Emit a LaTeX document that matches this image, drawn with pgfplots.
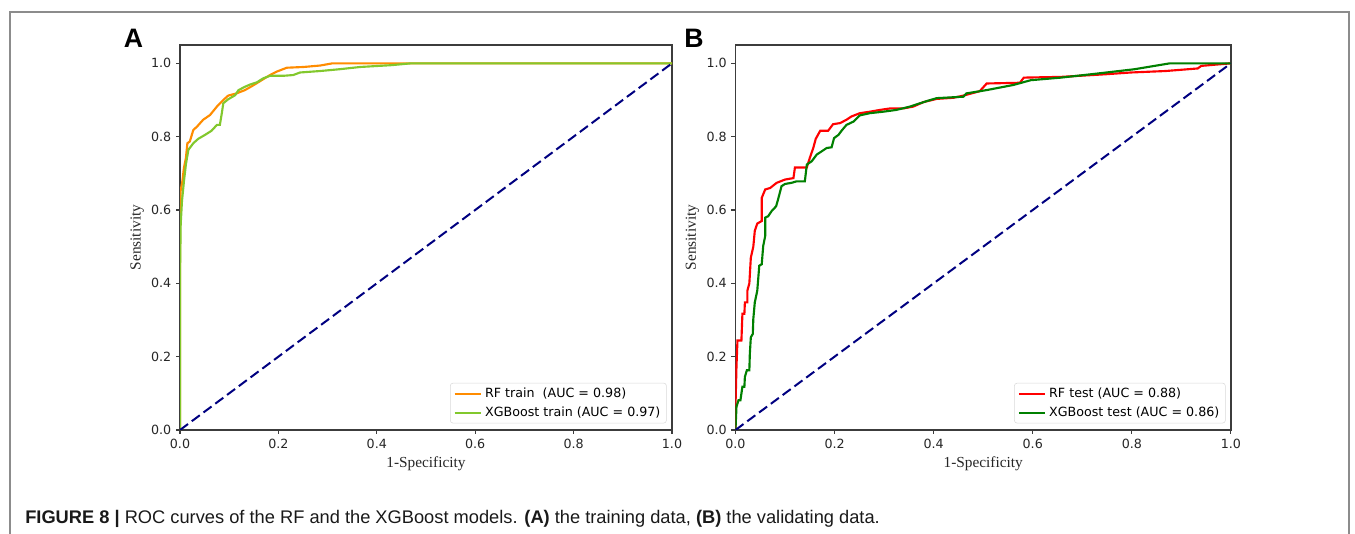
\documentclass[border=0pt]{standalone}
\usepackage{fontspec}
\setmainfont{Liberation Sans}
\newfontfamily\dejavu{DejaVu Sans}
\newfontfamily\timesf{Liberation Serif}
\usepackage{pgfplots}
\pgfplotsset{compat=1.18}

\definecolor{rforange}{RGB}{255,140,0}
\definecolor{xgyellowgreen}{RGB}{130,200,45}
\definecolor{rfred}{RGB}{255,0,0}
\definecolor{xggreen}{RGB}{0,128,0}
\definecolor{diagnavy}{RGB}{0,0,128}
\definecolor{spine}{RGB}{60,60,60}

% values
\pgfplotstableread{
x y
0 0
0 0.52
0.001 0.65
0.005 0.68
0.008 0.715
0.012 0.742
0.015 0.782
0.02 0.787
0.027 0.818
0.035 0.828
0.047 0.846
0.061 0.859
0.075 0.882
0.088 0.90
0.098 0.912
0.115 0.918
0.132 0.927
0.149 0.940
0.166 0.954
0.183 0.968
0.196 0.977
0.217 0.988
0.251 0.990
0.285 0.994
0.31 1.0
1 1
}\rftrain

\pgfplotstableread{
x y
0 0
0 0.42
0.0014 0.56
0.004 0.624
0.008 0.678
0.012 0.724
0.017 0.764
0.027 0.782
0.037 0.794
0.051 0.805
0.064 0.816
0.075 0.832
0.081 0.832
0.085 0.864
0.088 0.891
0.098 0.902
0.112 0.913
0.119 0.927
0.132 0.936
0.142 0.942
0.156 0.948
0.169 0.959
0.183 0.966
0.21 0.966
0.23 0.968
0.244 0.975
0.285 0.979
0.325 0.984
0.366 0.99
0.43 0.995
0.47 1.0
1 1
}\xgtrain

\pgfplotstableread{
x y
0 0
0 0.063
0.002 0.172
0.004 0.244
0.012 0.244
0.014 0.317
0.018 0.317
0.019 0.348
0.024 0.348
0.024 0.38
0.028 0.40
0.031 0.47
0.036 0.50
0.039 0.543
0.044 0.563
0.053 0.57
0.053 0.633
0.06 0.656
0.07 0.66
0.083 0.674
0.10 0.683
0.117 0.687
0.12 0.716
0.144 0.716
0.15 0.742
0.157 0.769
0.162 0.794
0.171 0.816
0.187 0.816
0.197 0.834
0.211 0.837
0.224 0.846
0.234 0.855
0.251 0.864
0.271 0.868
0.292 0.873
0.312 0.877
0.339 0.877
0.359 0.882
0.379 0.894
0.406 0.903
0.44 0.906
0.46 0.912
0.493 0.924
0.507 0.945
0.574 0.947
0.582 0.961
0.657 0.963
0.745 0.97
0.798 0.975
0.868 0.979
0.933 0.986
0.94 0.993
1 1
}\rftest

\pgfplotstableread{
x y
0 0
0.002 0.063
0.006 0.081
0.010 0.081
0.014 0.118
0.018 0.118
0.019 0.145
0.023 0.163
0.028 0.163
0.029 0.208
0.031 0.253
0.035 0.262
0.036 0.303
0.039 0.348
0.044 0.38
0.048 0.448
0.053 0.452
0.056 0.502
0.06 0.529
0.06 0.579
0.066 0.583
0.073 0.597
0.082 0.61
0.086 0.629
0.093 0.665
0.10 0.671
0.113 0.674
0.123 0.678
0.14 0.678
0.144 0.724
0.154 0.733
0.164 0.751
0.174 0.76
0.184 0.769
0.194 0.771
0.199 0.796
0.208 0.805
0.214 0.816
0.224 0.832
0.238 0.841
0.251 0.858
0.271 0.864
0.298 0.868
0.325 0.873
0.352 0.882
0.386 0.897
0.406 0.905
0.46 0.909
0.466 0.918
0.507 0.927
0.561 0.941
0.596 0.954
0.657 0.961
0.736 0.973
0.806 0.984
0.877 1.0
1 1
}\xgtest

\pgfplotsset{
  rocax/.style={
    scale only axis,
    height=288.75pt,
    xmin=0, xmax=1, ymin=0, ymax=1.05,
    xtick={0,0.2,0.4,0.6,0.8,1.0},
    ytick={0,0.2,0.4,0.6,0.8,1.0},
    /pgf/number format/fixed,
    /pgf/number format/fixed zerofill,
    /pgf/number format/precision=1,
    /pgf/number format/assume math mode=true,
    tick label style={font=\dejavu\fontsize{9.5}{11}\selectfont, text=black!85},
    tick align=outside,
    major tick length=3pt,
    tick style={spine, line width=0.8pt},
    xtick pos=lower, ytick pos=left,
    axis line style={spine, line width=0.9pt},
    xlabel={1-Specificity}, ylabel={Sensitivity},
    label style={font=\timesf\fontsize{11.5}{13}\selectfont, text=black!85},
    xlabel style={at={(axis description cs:0.5,-0.088)}, anchor=center},
    ylabel style={at={(axis description cs:-0.087,0.5)}, anchor=center},
    legend style={at={(1,0)}, anchor=south east, xshift=-4pt, yshift=5pt,
      draw=black!15, rounded corners=2pt, fill=white,
      font=\dejavu\fontsize{9.5}{11}\selectfont,
      inner xsep=2.5pt, inner ysep=1.5pt, row sep=1.5pt,
      nodes={inner sep=2pt}},
    legend cell align=left,
    legend image code/.code={\draw[##1] (0pt,0pt) -- (20pt,0pt);},
  },
  curve/.style={line width=1.6pt},
  diag/.style={diagnavy, line width=1.5pt, dash pattern=on 7.5pt off 3.5pt},
}

\begin{document}
\begin{tikzpicture}[x=0.75pt,y=0.75pt]
\useasboundingbox (0,0) rectangle (1355,534);
\draw[black!45, line width=1pt] (10,0) -- (10,522) -- (1349,522) -- (1349,0);

\begin{axis}[rocax, at={(135pt,78pt)}, width=369pt]
\addplot[curve, rforange] table {\rftrain};
\addlegendentry{RF train\ \ (AUC = 0.98)}
\addplot[curve, xgyellowgreen] table {\xgtrain};
\addlegendentry{XGBoost train (AUC = 0.97)}
\addplot[diag, forget plot] coordinates {(0,0) (1,1)};
\end{axis}

\begin{axis}[rocax, at={(551.6pt,78pt)}, width=371.6pt]
\addplot[curve, rfred] table {\rftest};
\addlegendentry{RF test (AUC = 0.88)}
\addplot[curve, xggreen] table {\xgtest};
\addlegendentry{XGBoost test (AUC = 0.86)}
\addplot[diag, forget plot] coordinates {(0,0) (1,1)};
\end{axis}

\node[font=\bfseries\fontsize{20}{24}\selectfont, anchor=center] at (133.5,496) {A};
\node[font=\bfseries\fontsize{20}{24}\selectfont, anchor=center] at (694,496) {B};

\node[anchor=base west, inner sep=0pt, font=\fontsize{13.7}{16}\selectfont, text=black!90]
  at (25,10) {\textbf{FIGURE 8 |} ROC curves of the RF and the XGBoost models. \textbf{(A)} the training data, \textbf{(B)} the validating data.};
\end{tikzpicture}
\end{document}
